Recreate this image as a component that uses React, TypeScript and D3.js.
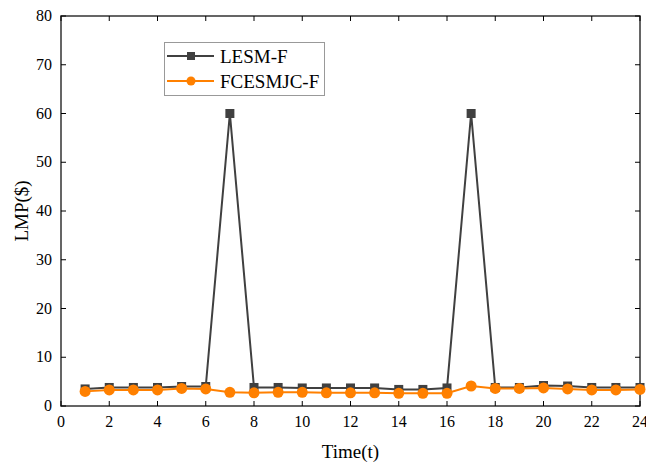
import React from "react";
import * as d3 from "d3";

const times = [1,2,3,4,5,6,7,8,9,10,11,12,13,14,15,16,17,18,19,20,21,22,23,24];
const lesmF = [3.5,3.8,3.8,3.8,4.0,4.0,60,3.8,3.8,3.7,3.7,3.7,3.7,3.4,3.4,3.7,60,3.8,3.8,4.2,4.1,3.8,3.8,3.8];
const fcesmjcF = [3.0,3.3,3.3,3.3,3.6,3.5,2.8,2.7,2.8,2.8,2.7,2.7,2.7,2.6,2.6,2.6,4.1,3.6,3.6,3.7,3.5,3.3,3.3,3.4];
const xTicks = [0,2,4,6,8,10,12,14,16,18,20,22,24];
const yTicks = [0,10,20,30,40,50,60,70,80];
const seriesNames = ["LESM-F", "FCESMJC-F"];

const W = 646, H = 463;
const L = 61, R = 640, T = 16, B = 406;
const font = "'Liberation Serif', 'Times New Roman', serif";
const dark = "#404040";
const orange = "#FF8000";

export default function App() {
  const x = d3.scaleLinear().domain([0, 24]).range([L, R]);
  const y = d3.scaleLinear().domain([0, 80]).range([B, T]);
  const line = d3.line<number>().x((_, i) => x(times[i])).y((d) => y(d));
  return (
    <svg width={W} height={H} style={{ position: "absolute", left: 0, top: 0 }}>
      <rect x={0} y={0} width={W} height={H} fill="#fff" />
      <rect x={L} y={T} width={R - L} height={B - T} fill="none" stroke="#333" strokeWidth={1.5} />
      {xTicks.map((t) => (
        <g key={"x" + t}>
          <line x1={x(t)} x2={x(t)} y1={B} y2={B - 5} stroke="#000" strokeWidth={1} />
          <line x1={x(t)} x2={x(t)} y1={T} y2={T + 5} stroke="#000" strokeWidth={1} />
          <text x={x(t)} y={B + 21} textAnchor="middle" fontFamily={font} fontSize={16} fill="#000">{t}</text>
        </g>
      ))}
      {yTicks.map((t) => (
        <g key={"y" + t}>
          <line x1={L} x2={L + 5} y1={y(t)} y2={y(t)} stroke="#000" strokeWidth={1} />
          <line x1={R} x2={R - 5} y1={y(t)} y2={y(t)} stroke="#000" strokeWidth={1} />
          <text x={L - 9} y={y(t) + 5} textAnchor="end" fontFamily={font} fontSize={16} fill="#000">{t}</text>
        </g>
      ))}
      <text x={(L + R) / 2} y={458} textAnchor="middle" fontFamily={font} fontSize={19} fill="#000">Time(t)</text>
      <text transform={`translate(28,${(T + B) / 2}) rotate(-90)`} textAnchor="middle" fontFamily={font} fontSize={19} fill="#000">LMP($)</text>
      <path d={line(lesmF) || ""} fill="none" stroke={dark} strokeWidth={2} />
      {lesmF.map((v, i) => (
        <rect key={"s" + i} x={x(times[i]) - 4.5} y={y(v) - 4.5} width={9} height={9} fill={dark} />
      ))}
      <path d={line(fcesmjcF) || ""} fill="none" stroke={orange} strokeWidth={2} />
      {fcesmjcF.map((v, i) => (
        <circle key={"c" + i} cx={x(times[i])} cy={y(v)} r={5.5} fill={orange} />
      ))}
      <rect x={164.5} y={42.5} width={160} height={53} fill="#fff" stroke="#999" strokeWidth={1} />
      <line x1={167} x2={214} y1={56} y2={56} stroke={dark} strokeWidth={2} />
      <rect x={187} y={52} width={8} height={8} fill={dark} />
      <text x={220} y={63} fontFamily={font} fontSize={19} fill="#000">{seriesNames[0]}</text>
      <line x1={167} x2={214} y1={81} y2={81} stroke={orange} strokeWidth={2} />
      <circle cx={191} cy={81} r={4.5} fill={orange} />
      <text x={220} y={88} fontFamily={font} fontSize={19} fill="#000">{seriesNames[1]}</text>
    </svg>
  );
}
